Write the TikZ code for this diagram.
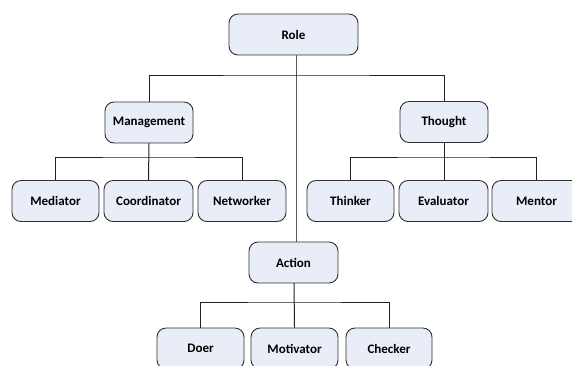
\documentclass[tikz,border=0pt]{standalone}
\usepackage{fontspec}
\setmainfont{Carlito}
\definecolor{boxfill}{HTML}{E8EDF7}
\definecolor{boxline}{HTML}{303030}
\definecolor{conn}{HTML}{202020}
\begin{document}
\begin{tikzpicture}[x=1pt,y=-1pt,
  box/.style={draw=boxline,fill=boxfill,rounded corners=9pt,line width=0.9pt,
    minimum width=87pt,minimum height=41pt,inner sep=0pt,font=\bfseries\fontsize{13}{15}\selectfont},
  conn/.style={draw=conn,line width=1pt}]
\useasboundingbox (0,0) rectangle (572,365);
\clip (0,0) rectangle (572,365);
\node[box,minimum width=129pt] (role) at (293.5,34.5) {Role};
\node[box,minimum width=88pt] (mgmt) at (149,122.5) {Management};
\node[box,minimum width=88pt] (thought) at (444,122) {Thought};
\node[box,minimum width=89pt] (action) at (293.5,262.5) {Action};
\node[box] (mediator) at (55.5,201) {Mediator};
\node[box,minimum width=89pt] (coord) at (148.5,201) {Coordinator};
\node[box,minimum width=88pt] (network) at (242,201) {Networker};
\node[box] (thinker) at (350.5,201) {Thinker};
\node[box,minimum width=89pt] (evaluator) at (443.5,201) {Evaluator};
\node[box,minimum width=89pt] (mentor) at (536.5,201) {Mentor};
\node[box] (doer) at (200.5,348.5) {Doer};
\node[box] (motivator) at (294.5,348.5) {Motivator};
\node[box,minimum width=86pt] (checker) at (389,348.5) {Checker};
\coordinate (trunkTop) at (296,55);
\coordinate (trunkBot) at (296,242);
\draw[conn,draw=gray!70!black] (trunkTop) -- (trunkBot);
\draw[conn] (mgmt.north) |- (296,75) -| (thought.north);
\draw[conn] (mgmt.south) -- (coord.north);
\draw[conn] (mediator.north) |- (149,157) -| (network.north);
\draw[conn] (thought.south) -- (444,181);
\draw[conn] (thinker.north) |- (444,157) -| (mentor.north);
\draw[conn] (294,283) -- (motivator.north);
\draw[conn] (doer.north) |- (294,302) -| (checker.north);
\end{tikzpicture}
\end{document}
